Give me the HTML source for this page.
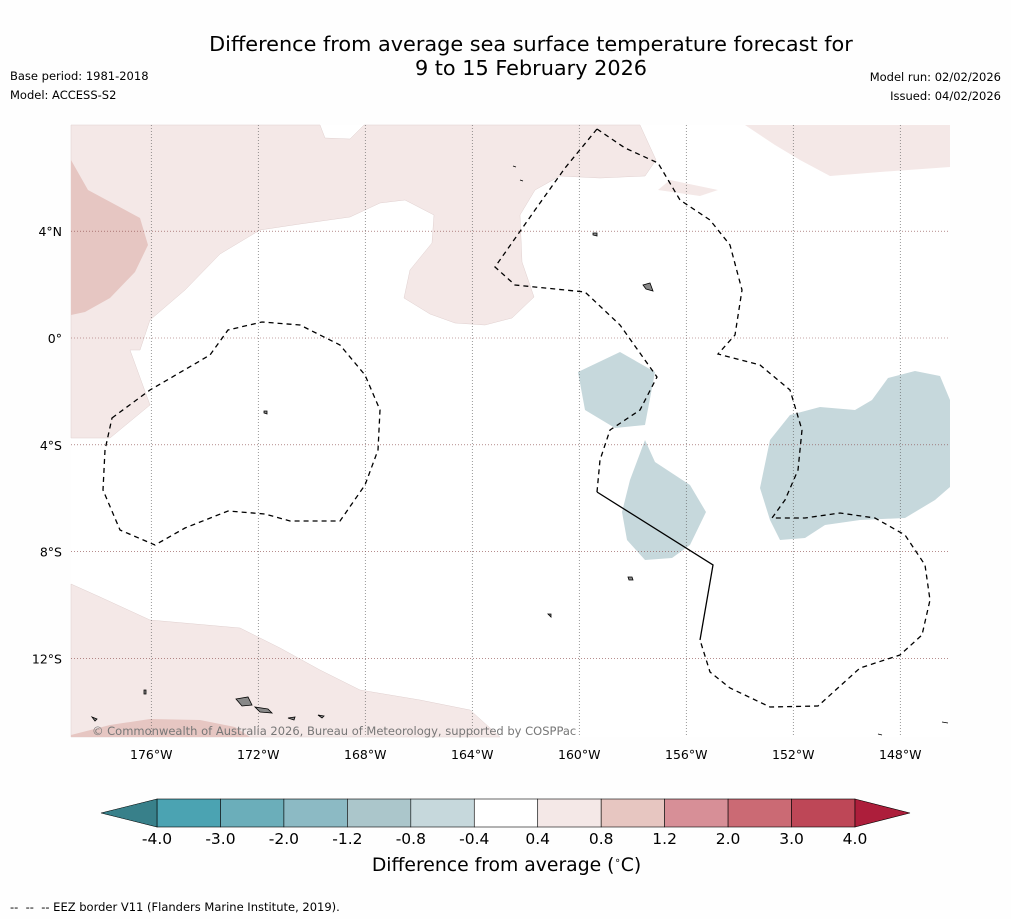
<!DOCTYPE html>
<html><head><meta charset="utf-8"><style>
body{margin:0;background:#fefefe;font-family:"DejaVu Sans","Liberation Sans",sans-serif;}
#wrap{position:relative;width:1011px;height:919px;overflow:hidden;background:#fefefe}
.t{position:absolute;white-space:nowrap}
</style></head><body>
<div id="wrap">
<div class="t" style="left:0;width:1062px;top:32px;text-align:center;font-size:20.8px;line-height:24px;color:#000">Difference from average sea surface temperature forecast for<br>9 to 15 February 2026</div>
<div class="t" style="left:10px;top:69px;font-size:11.5px">Base period: 1981-2018</div>
<div class="t" style="left:10px;top:88px;font-size:11.5px">Model: ACCESS-S2</div>
<div class="t" style="right:10px;top:70px;font-size:11.5px">Model run: 02/02/2026</div>
<div class="t" style="right:10px;top:89px;font-size:11.5px">Issued: 04/02/2026</div>
<svg id="svg" width="1011" height="919" style="position:absolute;left:0;top:0">
<g>
<rect x="71" y="125" width="879" height="612" fill="#ffffff"/>
<path d="M71,125 L320,125 L325,138 L350,139 L364,125 L640,125 L656,160 L645,176 L600,178 L560,176 L535,190 L520,215 L522,262 L534,297 L512,318 L485,325 L455,323 L430,314 L404,298 L410,270 L432,243 L434,215 L405,200 L380,203 L350,217 L300,224 L260,230 L220,254 L185,290 L150,320 L140,350 L130,350 L150,405 L110,438 L71,438 Z" fill="#f4e8e7" stroke="#e0d0cf" stroke-width="0.5"/>
<path d="M745,125 L950,125 L950,167 L880,172 L830,176 L800,160 L775,145 Z" fill="#f4e8e7"/>
<path d="M658,190 L670,180 L718,190 L700,196 Z" fill="#f4e8e7"/>
<path d="M71,160 L88,190 L140,218 L148,245 L135,272 L110,298 L85,312 L71,315 Z" fill="#e6c6c2"/>
<path d="M71,584 L100,597 L150,620 L240,628 L280,648 L320,670 L360,690 L420,700 L470,710 L500,737 L71,737 Z" fill="#f4e8e7" stroke="#e0d0cf" stroke-width="0.5"/>
<path d="M71,735 L110,725 L150,719 L200,720 L235,727 L250,737 L71,737 Z" fill="#e6c6c2"/>
<path d="M578,372 L620,352 L655,372 L645,425 L615,428 L585,410 Z" fill="#c6d8dc"/>
<path d="M645,440 L655,462 L690,485 L706,512 L690,545 L672,558 L645,560 L627,540 L622,512 L630,480 Z" fill="#c6d8dc"/>
<path d="M888,378 L915,371 L940,376 L950,400 L950,487 L935,500 L905,518 L860,520 L825,525 L805,538 L780,540 L770,520 L760,488 L770,440 L790,415 L820,407 L855,410 L872,400 Z" fill="#c6d8dc"/>
<g id="grid"></g>
<g fill="none" stroke="#000" stroke-width="1.3" stroke-dasharray="5,4">
<path d="M597,129 L625,148 L658,163 L680,200 L710,220 L730,245 L742,290 L735,335 L718,354 L760,365 L790,390 L802,430 L798,470 L785,500 L772,518 L805,518 L840,513 L875,518 L905,535 L925,565 L930,600 L922,635 L900,655 L860,668 L818,706 L770,707 L730,688 L710,672 L700,640"/>
<path d="M597,129 L565,168 L535,210 L495,267 L515,285 L585,292 L620,325 L657,377 L640,410 L610,430 L600,460 L597,492"/>
<path d="M112,418 L150,390 L210,355 L228,330 L262,322 L300,325 L340,345 L365,375 L380,410 L378,450 L365,485 L340,521 L290,521 L265,514 L228,511 L185,528 L155,545 L120,530 L103,490 L105,450 Z"/>
</g>
<path d="M597,492 L713,565 L700,640" fill="none" stroke="#000" stroke-width="1.3"/>
<g fill="#888" stroke="#000" stroke-width="0.8">
<path d="M236,699 L248,697 L252,705 L242,706 Z"/><path d="M255,707 L268,709 L272,713 L260,712 Z"/>
<path d="M643,285 L650,283 L653,291 L646,289 Z"/><path d="M593,233 L597,233 L597,236 L593,235 Z"/>
<path d="M264,411 L267,411 L267,414 L264,413 Z"/><path d="M628,577 L632,577 L633,580 L629,580 Z"/>
<path d="M288,718 L295,717 L294,720 Z"/><path d="M318,715 L324,716 L322,718 Z"/><path d="M92,717 L97,719 L95,721 Z"/>
<path d="M144,690 L146,690 L146,694 L144,694 Z"/><path d="M548,614 L551,614 L551,617 Z"/>
<path d="M513,166 L516,167 Z"/><path d="M520,180 L523,181 Z"/><path d="M878,734 L882,735 Z"/><path d="M942,722 L948,723 Z"/>
</g>
</g>
<g id="cbar"></g>
</svg>
<div class="t" style="left:92px;top:724px;font-size:11.5px;color:#777">© Commonwealth of Australia 2026, Bureau of Meteorology, supported by COSPPac</div>
<div class="t" style="left:0;width:1013px;text-align:center;top:855px;font-size:18.8px">Difference from average (<sup style="font-size:10px">∘</sup>C)</div>
<div class="t" style="left:10px;top:900px;font-size:11.5px">-- &nbsp;-- &nbsp;-- EEZ border V11 (Flanders Marine Institute, 2019).</div>
</div>
<script>
const lonTicks=[176,172,168,164,160,156,152,148];
const latTicks=[4,0,-4,-8,-12];
const levels=[-4.0,-3.0,-2.0,-1.2,-0.8,-0.4,0.4,0.8,1.2,2.0,3.0,4.0];
const levelLabels=["-4.0","-3.0","-2.0","-1.2","-0.8","-0.4","0.4","0.8","1.2","2.0","3.0","4.0"];
const binColors=["#4ba3b2","#6baeba","#8cbac4","#abc6cb","#c6d8dc","#ffffff","#f4e8e7","#e7c6c1","#d78f97","#cb6a74","#be4757"];
const extendColors=["#38808a","#ad1e3b"];
const NS="http://www.w3.org/2000/svg";
const FF='"DejaVu Sans","Liberation Sans",sans-serif';
const svg=document.getElementById('svg');
const grid=document.getElementById('grid');
const xL=lon=>71+(179-lon)*26.75;
const yL=lat=>338-lat*26.7;
function mk(t,a,p){const e=document.createElementNS(NS,t);for(const k in a)e.setAttribute(k,a[k]);(p||svg).appendChild(e);return e;}
lonTicks.forEach(l=>{const x=xL(l);
const ln=mk('line',{x1:x,x2:x,y1:125,y2:737,stroke:'#555','stroke-width':0.6,'stroke-dasharray':'1,2'},grid);


const t=mk('text',{x:x,y:759,'text-anchor':'middle','font-size':12.5,'font-family':FF});
t.textContent=l+'°W';

});
latTicks.forEach(l=>{const y=yL(l);
const ln=mk('line',{x1:71,x2:950,y1:y,y2:y,stroke:'#8a4a4a','stroke-width':0.6,'stroke-dasharray':'1,2'},grid);


const t=mk('text',{x:62,y:y+5,'text-anchor':'end','font-size':12.5,'font-family':FF});
t.textContent=l>0?l+'°N':(l<0?(-l)+'°S':'0°');

});
const cb=document.getElementById('cbar');
const c0=157,c1=855,cy=799,ch=28,n=levels.length-1,bw=(c1-c0)/n;
const bx=i=>c0+i*bw;
for(let i=0;i<n;i++){const r=mk('rect',{x:bx(i),y:cy,width:bw,height:ch,fill:binColors[i],stroke:'#000','stroke-width':0.6},cb);

}
const lt=mk('polygon',{points:`${c0},${cy} 101,${cy+ch/2} ${c0},${cy+ch}`,fill:extendColors[0],stroke:'#000','stroke-width':0.6},cb);


const rt=mk('polygon',{points:`${c1},${cy} 910,${cy+ch/2} ${c1},${cy+ch}`,fill:extendColors[1],stroke:'#000','stroke-width':0.6},cb);


levels.forEach((v,i)=>{const t=mk('text',{x:bx(i),y:844,'text-anchor':'middle','font-size':15.5,'font-family':FF},cb);
t.textContent=levelLabels[i];

});
</script>
</body></html>
